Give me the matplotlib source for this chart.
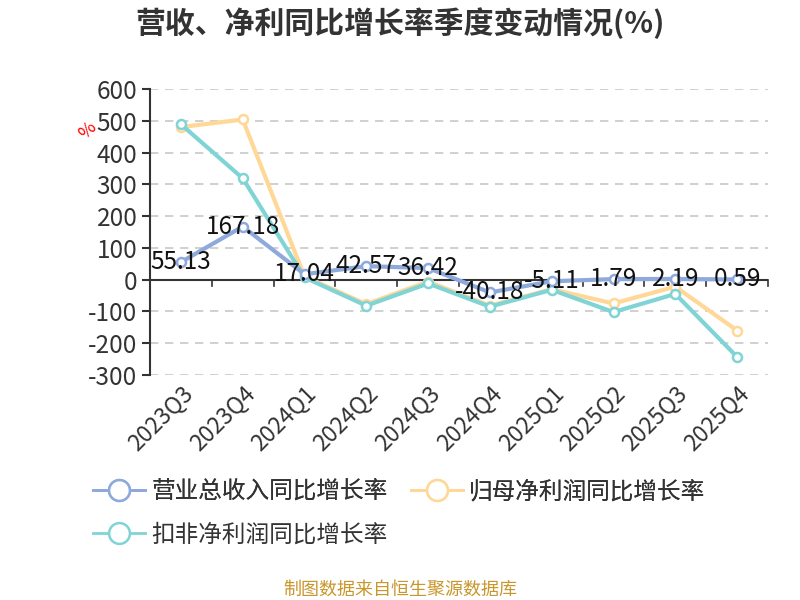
import matplotlib
matplotlib.use("Agg")
import matplotlib.pyplot as plt
from matplotlib.lines import Line2D

plt.rcParams['font.family'] = ['Noto Sans CJK SC', 'DejaVu Sans']

quarters = ["2023Q3", "2023Q4", "2024Q1", "2024Q2", "2024Q3",
            "2024Q4", "2025Q1", "2025Q2", "2025Q3", "2025Q4"]
revenue_yoy = [55.13, 167.18, 17.04, 42.57, 36.42, -40.18, -5.11, 1.79, 2.19, 0.59]
netprofit_yoy = [480, 504, 10, -77, -6, -82, -30, -75, -22, -160]
deducted_yoy = [489, 319, 7, -82, -12, -85, -32, -102, -45, -243]
yticks = [-300, -200, -100, 0, 100, 200, 300, 400, 500, 600]

series_names = ["营业总收入同比增长率", "归母净利润同比增长率", "扣非净利润同比增长率"]
colors = ["#8EA9DB", "#FFD898", "#80D4D6"]

fig = plt.figure(figsize=(8, 6), dpi=100)
ax = fig.add_axes([0.1875, 0.375, 0.7725, 0.4767])

x = list(range(len(quarters)))
for vals, c, z in [(netprofit_yoy, colors[1], 3), (deducted_yoy, colors[2], 4), (revenue_yoy, colors[0], 5)]:
    ax.plot(x, vals, color=c, lw=3, marker='o', ms=6.5, mfc='white', mec=c, mew=1.8, zorder=z)

for xi, v in zip(x, revenue_yoy):
    ax.text(xi, v, f"{v:.2f}", ha='center', va='center', fontsize=17.5, color='#111111', zorder=6)

ax.set_xlim(-0.5, len(quarters) - 0.5)
ax.set_ylim(-300, 600)
ax.set_yticks(yticks)
ax.set_yticklabels([str(t) for t in yticks], fontsize=17.5, color='#333333')
ax.grid(axis='y', ls=(0, (5, 4)), color='#c8c8c8', lw=1.2)
ax.set_axisbelow(True)

for s in ['top', 'right', 'bottom']:
    ax.spines[s].set_visible(False)
ax.spines['left'].set_color('#333333')
ax.spines['left'].set_linewidth(1.5)
ax.tick_params(axis='y', length=6, width=1.5, color='#333333', pad=3)

# zero line with category boundary ticks
ax.axhline(0, color='#333333', lw=1.5, zorder=2)
for b in range(1, len(quarters) + 1):
    ax.plot([b - 0.5, b - 0.5], [0, -20], color='#333333', lw=1.2, zorder=2, clip_on=False)

ax.set_xticks(x)
ax.set_xticklabels(quarters, rotation=45, ha='right', rotation_mode='anchor', fontsize=16.5, color='#333333')
ax.tick_params(axis='x', length=0, pad=5)

fig.text(0.109, 0.783, "%", color='red', fontsize=13, rotation=45, ha='center', va='center')

fig.text(0.5, 0.962, "营收、净利同比增长率季度变动情况(%)", ha='center', va='center',
         fontsize=21.5, fontweight='bold', color='#333333')

handles = [Line2D([0], [0], color=c, lw=2, marker='o', ms=15, mfc='white', mec=c, mew=1.8) for c in colors]
leg1 = fig.legend(handles[:2], series_names[:2], loc='center left', bbox_to_anchor=(0.09, 0.18),
                  ncol=2, frameon=False, fontsize=17, handlelength=2.2, columnspacing=1.0,
                  handletextpad=0.25, labelcolor='#333333')
fig.add_artist(leg1)
fig.legend(handles[2:], series_names[2:], loc='center left', bbox_to_anchor=(0.09, 0.108),
           frameon=False, fontsize=17, handlelength=2.2, handletextpad=0.25, labelcolor='#333333')

fig.text(0.5, 0.017, "制图数据来自恒生聚源数据库", ha='center', va='center', fontsize=13, color='#C9962C')

fig.savefig("out.png", dpi=100)
